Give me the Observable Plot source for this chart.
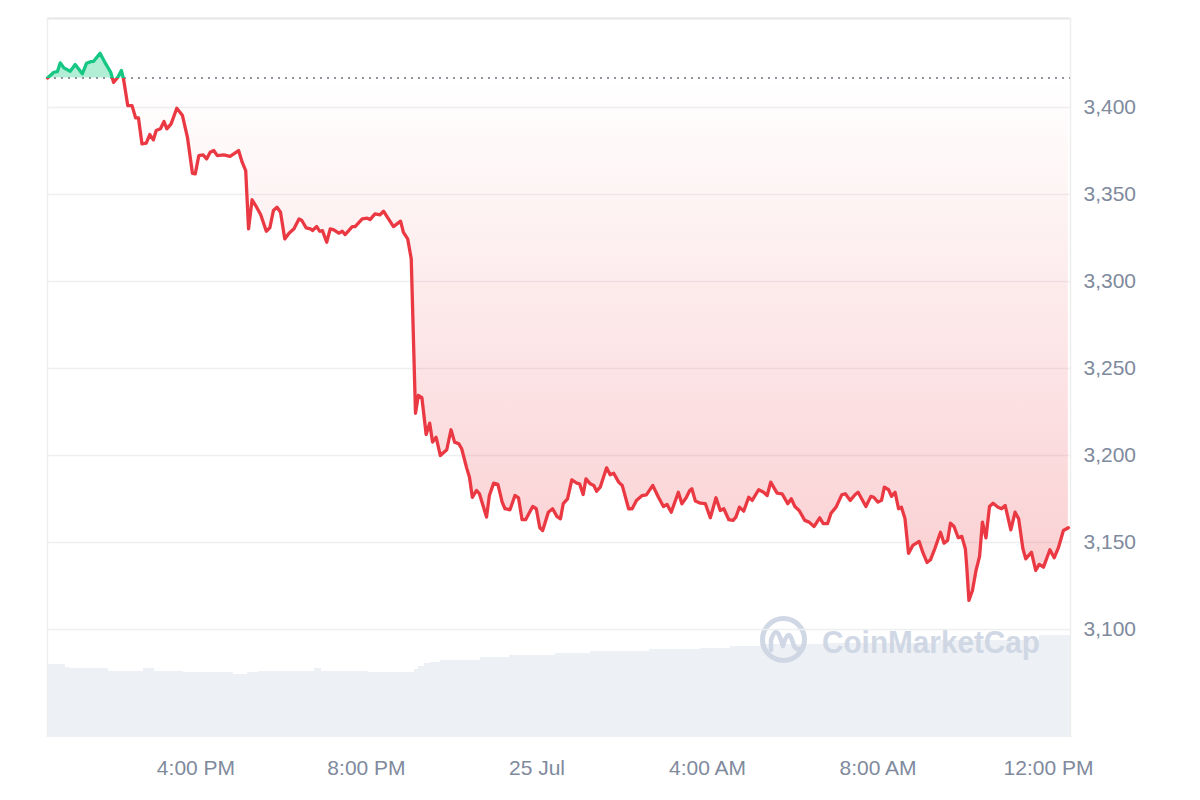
<!DOCTYPE html>
<html>
<head>
<meta charset="utf-8">
<script src="https://cdn.jsdelivr.net/npm/d3@7"></script>
<script src="https://cdn.jsdelivr.net/npm/@observablehq/plot@0.6"></script>
<style>
  body { margin: 0; background: #fff; }
  #wrap { position: relative; width: 1200px; height: 800px; font-family: "Liberation Sans", Arial, sans-serif; }
  #wrap > svg { position: absolute; left: 0; top: 0; }
</style>
</head>
<body>
<div id="wrap"></div>
<script>
// ---- Data ----
const startTime = Date.UTC(2024, 6, 24, 12, 31); // 24 Jul, 12:31 PM
const windowMinutes = 1440;

const minutesFromStart = [0,9,14,18,23,32,39,49,55,61,65,74,82,89,93,99,104,107,113,119,124,128,133,139,144,149,153,159,164,168,174,182,190,197,204,208,213,219,224,229,234,239,248,257,269,
274,279,283,288,293,300,308,313,318,323,328,334,340,347,354,358,364,370,373,379,383,387,393,398,403,410,415,419,429,433,443,450,454,461,468,473,480,487,497,501,507,512,
518,522,527,533,538,542,547,553,562,568,573,579,583,590,594,598,604,608,618,622,628,634,640,644,651,658,663,668,673,683,688,693,697,705,711,717,722,726,732,738,
745,749,754,758,764,769,773,778,787,792,797,804,809,818,823,829,837,843,852,860,867,872,878,888,893,899,904,907,912,919,926,933,941,947,952,959,965,969,974,980,
987,992,1001,1008,1013,1018,1027,1034,1042,1047,1052,1058,1066,1072,1079,1087,1092,1098,1103,1110,1118,1123,1130,1137,1141,1152,1159,1163,1169,1174,
1178,1184,1188,1193,1198,1202,1207,1212,1218,1227,1232,1238,1243,1249,1257,1262,1267,1271,1276,1282,1287,1292,1294,1297,1302,1307,1312,1316,1321,1326,
1331,1338,1343,1348,1356,1362,1367,1373,1377,1385,1391,1396,1402,1411,1417,1423,1430,1437];

const prices = [3417,3420.3,3420.7,3425.7,3422.8,3420.9,3424.7,3419.4,3425.5,3426.4,3426.6,3431.2,3425.1,3420.3,3414.5,3417.4,3421.3,3416.5,3401.1,3401.1,3394.1,3394.1,3379.1,3379.5,3384.5,3381.4,3386.8,3387.8,3392.0,3387.8,3390.6,3399.6,3395.4,3382.9,3362.2,3361.9,3372.4,3372.8,3370.5,3374.3,3375.3,3372.4,3372.8,3372.0,3375.3,
3368.6,3363.8,3330.3,3347.0,3343.7,3338.5,3328.9,3330.9,3340.8,3342.7,3339.8,3324.5,3327.8,3330.3,3336.0,3335.1,3330.9,3330.3,3329.3,3331.6,3328.9,3329.3,3322.6,3330.3,3329.7,3327.8,3328.9,3327.0,3331.6,3331.6,3336.0,3336.4,3335.6,3338.9,3338.3,3340.4,3336.0,3331.6,3334.7,3328.3,3324.5,3313.1,
3224.3,3234.5,3233.2,3212.1,3218.6,3207.7,3210.5,3200.0,3203.3,3214.8,3207.7,3206.7,3203.9,3192.9,3187.5,3176.0,3179.9,3178.0,3164.6,3177.0,3184.1,3183.4,3173.2,3169.4,3168.8,3177.0,3175.7,3163.1,3163.1,3170.7,3169.4,3158.5,3156.9,3167.4,3169.4,3165.0,3163.6,3172.3,3175.1,3186.0,
3184.1,3183.7,3177.6,3186.6,3183.7,3182.8,3179.5,3181.8,3192.9,3188.9,3189.8,3184.7,3182.8,3169.4,3169.4,3174.2,3177.0,3177.4,3182.8,3176.0,3170.7,3171.9,3167.4,3178.9,3172.3,3175.7,3179.9,3180.9,3173.8,3172.6,3172.3,3164.2,3175.7,3168.4,3169.4,3163.1,3162.7,3164.6,3170.3,3168.0,
3176.0,3174.2,3180.3,3178.9,3177.0,3184.7,3178.4,3178.0,3172.3,3175.1,3170.7,3168.4,3162.7,3161.7,3159.2,3164.2,3160.8,3160.8,3166.9,3170.3,3177.4,3178.0,3174.2,3177.6,3178.9,3170.7,3176.5,3176.0,3173.2,3174.2,
3181.8,3180.3,3176.5,3178.9,3169.4,3170.3,3163.8,3143.7,3148.3,3150.6,3144.4,3138.5,3140.1,3146.4,3155.9,3149.6,3151.2,3161.1,3159.2,3152.7,3153.5,3146.4,3135.8,3116.7,3122.4,3133.9,3142.0,3161.7,3152.7,3170.7,
3172.6,3170.3,3169.4,3171.3,3157.3,3167.4,3163.6,3146.4,3140.6,3144.4,3133.9,3137.4,3135.8,3145.8,3141.2,3147.0,3156.9,3158.5];

// Volume bars (estimated, billions USD): start minute of each run and its level
const volumeStartMinutes = [0,25,32,86,135,151,191,262,281,297,376,386,452,516,522,531,539,553,609,651,715,764,848,919,962,1003,1092,1256,1397];
const volumeValues = [14.6,14.0,13.74,13.26,13.74,13.26,12.94,12.54,12.94,13.26,13.74,13.26,12.94,13.6,14.2,14.8,15.1,15.4,16.0,16.4,16.8,17.2,17.6,17.74,18.2,18.54,18.8,19.4,20.4];

const yTicks = [3100, 3150, 3200, 3250, 3300, 3350, 3400];
const yDomain = [3037.9, 3451.2];
const xTickTimes = [Date.UTC(2024,6,24,16), Date.UTC(2024,6,24,20), Date.UTC(2024,6,25,0), Date.UTC(2024,6,25,4), Date.UTC(2024,6,25,8), Date.UTC(2024,6,25,12)];

if (minutesFromStart.length !== prices.length) throw new Error("length mismatch " + minutesFromStart.length + " vs " + prices.length);
if (volumeStartMinutes.length !== volumeValues.length) throw new Error("volume length mismatch");

// ---- Build ----
const toDate = m => new Date(startTime + m * 60000);
const data = minutesFromStart.map((m, i) => ({ time: toDate(m), price: prices[i] }));
const base = prices[0];
const xDomain = [toDate(0), toDate(windowMinutes)];
const volData = volumeStartMinutes.map((m, i) => ({
  start: toDate(m),
  end: toDate(i + 1 < volumeStartMinutes.length ? volumeStartMinutes[i + 1] : windowMinutes),
  vol: volumeValues[i]
}));

const common = { width: 1200, height: 800, marginTop: 18, marginRight: 130, marginBottom: 63, marginLeft: 47 };
const plotBottom = common.height - common.marginBottom;

const wrap = document.getElementById("wrap");

// Volume layer
const volPlot = Plot.plot({
  ...common,
  style: { background: "#fff" },
  x: { type: "utc", domain: xDomain, axis: null },
  y: { domain: [0, d3.max(volumeValues)], range: [plotBottom, plotBottom - 102], axis: null },
  marks: [
    Plot.rect(volData, { x1: "start", x2: "end", y1: 0, y2: "vol", fill: "#edf0f4", shapeRendering: "crispEdges" })
  ]
});
wrap.appendChild(volPlot);

// Watermark layer
const wm = document.createElementNS("http://www.w3.org/2000/svg", "svg");
wm.setAttribute("width", 1200);
wm.setAttribute("height", 800);
wm.innerHTML = `
  <g opacity="0.95">
    <circle cx="783.5" cy="639.5" r="21" fill="none" stroke="#cfd6e4" stroke-width="5"/>
    <path d="M771 650 L771 640 Q776 624 781 640 L783 646 Q788 628 792 640 L794 646 Q797 651 803 648" fill="none" stroke="#cfd6e4" stroke-width="4.5" stroke-linecap="round" stroke-linejoin="round"/>
    <text x="822" y="652.5" font-family="Liberation Sans, Arial, sans-serif" font-size="32" font-weight="bold" fill="#cfd6e4" textLength="218" lengthAdjust="spacingAndGlyphs">CoinMarketCap</text>
  </g>`;
wrap.appendChild(wm);

// Price layer
const fmtX = d => d.getUTCHours() === 0 ? d3.utcFormat("%-d %b")(d) : d3.utcFormat("%-I:%M %p")(d);
const chart = Plot.plot({
  ...common,
  style: { background: "transparent", fontFamily: "Liberation Sans, Arial, sans-serif", fontSize: "21px", color: "#808a9d" },
  x: { type: "utc", domain: xDomain },
  y: { domain: yDomain },
  marks: [
    Plot.ruleY(yTicks, { stroke: "#eeeff1", strokeWidth: 1.5 }),
    Plot.ruleY([yDomain[1]], { stroke: "#e6e6e6", strokeWidth: 2 }),
    Plot.ruleX(xDomain, { stroke: "#ededed", strokeWidth: 1.5 }),
    Plot.areaY(data, { x: "time", y1: base, y2: d => Math.min(d.price, base), fill: "url(#cmcRed)" }),
    Plot.areaY(data, { x: "time", y1: base, y2: d => Math.max(d.price, base), fill: "#16c784", fillOpacity: 0.33 }),
    Plot.ruleY([base], { stroke: "#8f959e", strokeWidth: 2, strokeDasharray: "2,5" }),
    Plot.line(data, { x: "time", y: "price", stroke: "url(#cmcLine)", strokeWidth: 3.3, strokeLinejoin: "round", strokeLinecap: "round" }),
    Plot.axisY(yTicks, { anchor: "right", tickSize: 0, tickPadding: 13, tickFormat: d3.format(","), label: null }),
    Plot.axisX(xTickTimes.map(t => new Date(t)), { anchor: "bottom", tickSize: 0, tickPadding: 23, tickFormat: fmtX, label: null })
  ]
});
const yb = chart.scale("y").apply(base);
const defs = document.createElementNS("http://www.w3.org/2000/svg", "defs");
defs.innerHTML = `
  <linearGradient id="cmcRed" x1="0" y1="0" x2="0" y2="1">
    <stop offset="0" stop-color="#ea3943" stop-opacity="0.0"/>
    <stop offset="1" stop-color="#ea3943" stop-opacity="0.25"/>
  </linearGradient>
  <linearGradient id="cmcLine" gradientUnits="userSpaceOnUse" x1="0" y1="0" x2="0" y2="800">
    <stop offset="${yb / 800}" stop-color="#16c784"/>
    <stop offset="${yb / 800}" stop-color="#ea3943"/>
  </linearGradient>`;
chart.insertBefore(defs, chart.firstChild);
wrap.appendChild(chart);
</script>
</body>
</html>
